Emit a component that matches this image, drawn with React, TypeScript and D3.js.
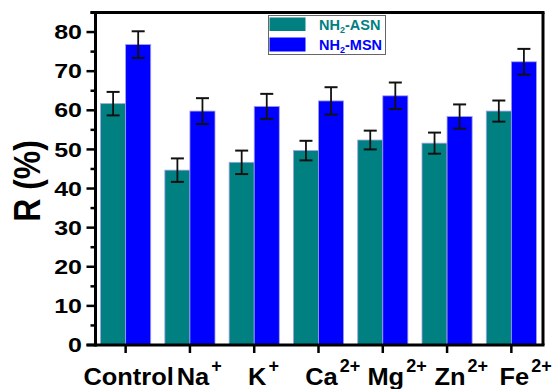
import React from "react";
import * as d3 from "d3";

const categories = ["Control", "Na", "K", "Ca", "Mg", "Zn", "Fe"];
const superscripts = ["", "+", "+", "2+", "2+", "2+", "2+"];
const seriesNames = ["NH2-ASN", "NH2-MSN"];
const asnValues = [61.7, 44.7, 46.7, 49.7, 52.4, 51.6, 59.8];
const asnErrors = [3.0, 3.0, 3.0, 2.5, 2.4, 2.7, 2.7];
const msnValues = [76.8, 59.8, 61.0, 62.4, 63.7, 58.4, 72.4];
const msnErrors = [3.4, 3.3, 3.2, 3.5, 3.4, 3.1, 3.3];
const yTicks = [0, 10, 20, 30, 40, 50, 60, 70, 80];
const yMinorTicks = [5, 15, 25, 35, 45, 55, 65, 75, 85];

const W = 556;
const H = 389;
const FONT = "Arial, 'Liberation Sans', sans-serif";
const TEAL = "#008080";
const BLUE = "#0000ff";

let measureCtx: CanvasRenderingContext2D | null = null;
function textWidth(s: string, font: string): number {
  if (typeof document === "undefined") return s.length * 12;
  if (!measureCtx) measureCtx = document.createElement("canvas").getContext("2d");
  if (!measureCtx) return s.length * 12;
  measureCtx.font = font;
  return measureCtx.measureText(s).width;
}

export default function App() {
  const left = 95.5;
  const right = 543;
  const top = 12.5;
  const bottom = 345;

  const y = d3.scaleLinear().domain([0, 85]).range([bottom, top]);
  const x0 = d3
    .scaleBand<string>()
    .domain(categories)
    .range([93.5, 543.5])
    .paddingInner(0.22)
    .paddingOuter(0.11);
  const x1 = d3
    .scaleBand<string>()
    .domain(seriesNames)
    .range([0, x0.bandwidth()]);

  const series = [
    { name: seriesNames[0], values: asnValues, errors: asnErrors, color: TEAL },
    { name: seriesNames[1], values: msnValues, errors: msnErrors, color: BLUE },
  ];

  const capW = 13;
  const baseFont = "bold 24px Arial";

  return (
    <svg width={W} height={H} style={{ position: "absolute", left: 0, top: 0 }} fontFamily={FONT}>
      <rect x={0} y={0} width={W} height={H} fill="#fff" />
      {/* bars */}
      {categories.map((c, i) => (
        <g key={c} transform={`translate(${x0(c)},0)`}>
          {series.map((s) => {
            const bx = x1(s.name)!;
            const bw = x1.bandwidth();
            const v = s.values[i];
            const e = s.errors[i];
            const cx = bx + bw / 2;
            return (
              <g key={s.name}>
                <rect
                  x={bx}
                  y={y(v)}
                  width={bw}
                  height={bottom - y(v)}
                  fill={s.color}
                  stroke="#a0a0e8"
                  strokeWidth={0.8}
                />
                <line x1={cx} x2={cx} y1={y(v + e)} y2={y(v - e)} stroke="#111" strokeWidth={1.8} />
                <line x1={cx - capW / 2} x2={cx + capW / 2} y1={y(v + e)} y2={y(v + e)} stroke="#111" strokeWidth={2} />
                <line x1={cx - capW / 2} x2={cx + capW / 2} y1={y(v - e)} y2={y(v - e)} stroke="#111" strokeWidth={2} />
              </g>
            );
          })}
        </g>
      ))}

      {/* frame */}
      <line x1={left - 5} x2={right + 1.5} y1={top} y2={top} stroke="#000" strokeWidth={3} />
      <line x1={right} x2={right} y1={top} y2={bottom} stroke="#000" strokeWidth={3} />
      <line x1={left} x2={left} y1={top - 1.5} y2={bottom + 1.5} stroke="#000" strokeWidth={3} />
      <line x1={left - 9} x2={right + 1.5} y1={bottom} y2={bottom} stroke="#000" strokeWidth={3} />

      {/* y ticks */}
      {yTicks.map((t) => (
        <g key={t}>
          <line x1={left - 9} x2={left} y1={y(t)} y2={y(t)} stroke="#000" strokeWidth={2.5} />
          <text
            transform={`translate(82,${y(t)}) scale(1.25,1)`}
            dy="0.36em"
            textAnchor="end"
            fontSize={20}
            fontWeight="bold"
            fill="#000"
          >
            {t}
          </text>
        </g>
      ))}
      {yMinorTicks.map((t) => (
        <line key={t} x1={left - 5} x2={left} y1={y(t)} y2={y(t)} stroke="#000" strokeWidth={2.5} />
      ))}

      {/* x ticks and labels */}
      {categories.map((c, i) => {
        const cx = x0(c)! + x0.bandwidth() / 2;
        const bw = textWidth(c, baseFont) * 1.06;
        const startX = cx + 3 - bw / 2;
        return (
          <g key={c}>
            <line x1={cx} x2={cx} y1={bottom} y2={bottom + 8} stroke="#000" strokeWidth={2.5} />
            <text
              transform={`translate(${startX},385) scale(1.06,1)`}
              fontSize={24}
              fontWeight="bold"
              fill="#000"
            >
              {c}
            </text>
            {superscripts[i] && (
              <text x={startX + bw + 2} y={372} fontSize={18} fontWeight="bold" fill="#000">
                {superscripts[i]}
              </text>
            )}
          </g>
        );
      })}

      {/* y label */}
      <text
        transform={`translate(39.5,181) rotate(-90) scale(1,1.15)`}
        textAnchor="middle"
        fontSize={32}
        fontWeight="bold"
        fill="#000"
      >
        R (%)
      </text>

      {/* legend */}
      <g>
        <rect x={268.5} y={15.5} width={117} height={39} fill="#fff" stroke="#666" strokeWidth={1} />
        <rect x={269.5} y={17.5} width={36} height={13.5} fill={TEAL} />
        <rect x={269.5} y={37.5} width={36} height={14} fill={BLUE} />
        <text x={319} y={30} fontSize={14.5} fontWeight="bold" fill={TEAL}>
          NH<tspan fontSize={9} dy={3}>2</tspan>
          <tspan dy={-3}>-ASN</tspan>
        </text>
        <text x={319} y={50} fontSize={14.5} fontWeight="bold" fill={BLUE}>
          NH<tspan fontSize={9} dy={3}>2</tspan>
          <tspan dy={-3}>-MSN</tspan>
        </text>
      </g>
    </svg>
  );
}
